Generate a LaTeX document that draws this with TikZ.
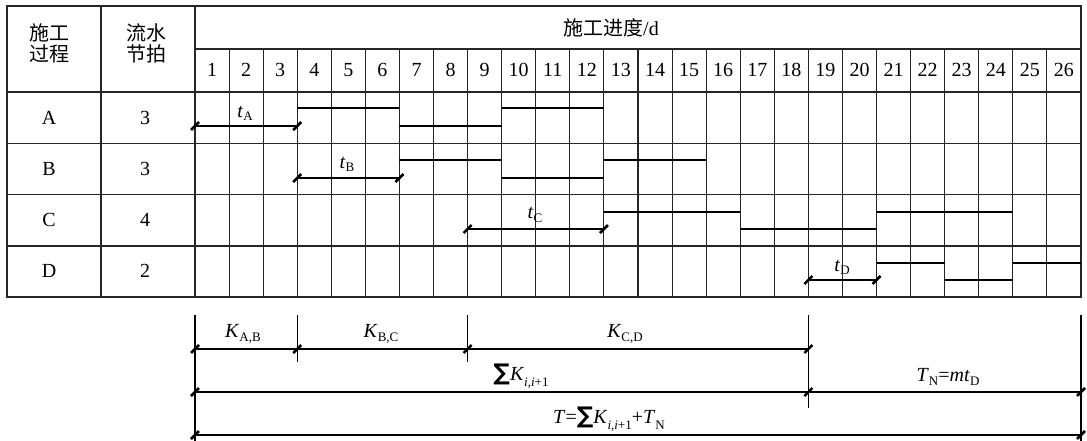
\documentclass[tikz,border=0pt]{standalone}
\usepackage{fontspec}
\setmainfont{Liberation Serif}
\newfontfamily\cjk{Noto Sans CJK SC}
\newfontfamily\symf{DejaVu Sans}
\newcommand\sbs[1]{\raisebox{-0.35ex}{\fontsize{13}{13}\selectfont #1}}
\newcommand\sbl[1]{\raisebox{-0.6ex}{\fontsize{13}{13}\selectfont #1}}
\newcommand\sumsym{{\symf\bfseries\fontsize{23}{23}\selectfont ∑}}
\def\W{34.0769}
\begin{document}
\begin{tikzpicture}[x=1pt,y=-1pt,
  grid/.style={line width=1.1pt, draw=black!85},
  barline/.style={line width=2.7pt},
  dimthick/.style={line width=2.4pt},
  dimthin/.style={line width=1.1pt},
  tickmark/.style={line width=2.6pt},
  lbl/.style={font=\fontsize{20}{22}\selectfont, inner sep=0pt},
  cjklbl/.style={font=\cjk\fontsize{20}{21}\selectfont, inner sep=0pt, align=center}
]
\useasboundingbox (0,0) rectangle (1087,441);

% ---- grid ----
\draw[grid] (7,6) rectangle (1081,297);
\draw[grid] (101,6) -- (101,297);
\draw[grid] (195,6) -- (195,297);
\draw[grid] (195,49) -- (1081,49);
\foreach \y in {92,143.5,194.5,246} \draw[grid] (7,\y) -- (1081,\y);
\foreach \i in {1,...,25} \draw[grid] ({195+\i*\W},49) -- ({195+\i*\W},297);

% ---- header texts ----
\node[cjklbl] (h1) at (49,43) {施工\\过程};
\node[cjklbl] (h2) at (146,43) {流水\\节拍};
\node[lbl] (h3) at (611,28) {{\cjk 施工进度}/d};
\foreach \i in {1,...,26} \node[lbl] (n\i) at ({195+(\i-0.5)*\W},70) {\i};

% ---- row labels ----
\node[lbl] (rA) at (49,118) {A};  \node[lbl] (kA) at (145,118) {3};
\node[lbl] (rB) at (49,169) {B};  \node[lbl] (kB) at (145,169) {3};
\node[lbl] (rC) at (49,220) {C};  \node[lbl] (kC) at (145,220) {4};
\node[lbl] (rD) at (49,271) {D};  \node[lbl] (kD) at (145,271) {2};

% ---- bars ----
\newcommand\seg[3]{\draw[barline] ({195+#1*\W},#3) -- ({195+#2*\W},#3);}
% row A
\seg{3}{6}{108}\seg{6}{9}{126}\seg{9}{12}{108}
% row B
\seg{6}{9}{160}\seg{9}{12}{178}\seg{12}{15}{160}
% row C
\seg{12}{16}{212}\seg{16}{20}{229}\seg{20}{24}{212}
% row D
\seg{20}{22}{263}\seg{22}{24}{280}\seg{24}{26}{263}

% ---- in-table dimensions ----
\coordinate (ta0) at ({195+0*\W},126);   \coordinate (ta1) at ({195+3*\W},126);
\coordinate (tb0) at ({195+3*\W},178);   \coordinate (tb1) at ({195+6*\W},178);
\coordinate (tc0) at ({195+8*\W},229);   \coordinate (tc1) at ({195+12*\W},229);
\coordinate (td0) at ({195+18*\W},280);  \coordinate (td1) at ({195+20*\W},280);
\draw[dimthick] (ta0) -- (ta1);
\draw[dimthick] (tb0) -- (tb1);
\draw[dimthick] (tc0) -- (tc1);
\draw[dimthick] (td0) -- (td1);
\foreach \c in {ta0,ta1,tb0,tb1,tc0,tc1,td0,td1}
  \draw[tickmark] ([shift={(-4,4)}]\c) -- ([shift={(4,-4)}]\c);
\node[lbl] (tA) at (245,113) {\textit{t}\sbs{A}};
\node[lbl] (tB) at (347,164) {\textit{t}\sbs{B}};
\node[lbl] (tC) at (535,215) {\textit{t}\sbs{C}};
\node[lbl] (tD) at (842,267) {\textit{t}\sbs{D}};

% ---- bottom dimensions ----
\coordinate (x0) at (195,0);
\coordinate (x1) at ({195+3*\W},0);
\coordinate (x2) at ({195+8*\W},0);
\coordinate (x3) at ({195+18*\W},0);
\coordinate (x4) at (1081,0);
% extension lines
\draw[dimthin] (x0 |- 0,315) -- (x0 |- 0,441);
\draw[dimthin] (x1 |- 0,315) -- (x1 |- 0,362);
\draw[dimthin] (x2 |- 0,315) -- (x2 |- 0,362);
\draw[dimthin] (x3 |- 0,315) -- (x3 |- 0,408);
\draw[dimthin] (x4 |- 0,315) -- (x4 |- 0,441);
% dimension lines
\coordinate (k0) at (x0 |- 0,349); \coordinate (k1) at (x1 |- 0,349);
\coordinate (k2) at (x2 |- 0,349); \coordinate (k3) at (x3 |- 0,349);
\coordinate (s0) at (x0 |- 0,392); \coordinate (s1) at (x3 |- 0,392);
\coordinate (s2) at (x4 |- 0,392);
\coordinate (u0) at (x0 |- 0,435); \coordinate (u1) at (x4 |- 0,435);
\draw[dimthin] (k0) -- (k3);
\draw[dimthin] (s0) -- (s2);
\draw[dimthin] (u0) -- (u1);
\foreach \c in {k0,k1,k2,k3,s0,s1,s2,u0,u1}
  \draw[tickmark] ([shift={(-4,4)}]\c) -- ([shift={(4,-4)}]\c);
\node[lbl] (KAB) at (243,334) {\textit{K}\sbs{A,B}};
\node[lbl] (KBC) at (381,334) {\textit{K}\sbs{B,C}};
\node[lbl] (KCD) at (625,334) {\textit{K}\sbs{C,D}};
\node[lbl] (SK) at (521,376) {\sumsym\textit{K}\sbl{\textit{i},\textit{i}+1}};
\node[lbl] (TN) at (948,377) {\textit{T}\sbs{N}=\textit{mt}\sbs{D}};
\node[lbl] (TT) at (609,419) {\textit{T}=\sumsym\textit{K}\sbl{\textit{i},\textit{i}+1}+\textit{T}\sbl{N}};
\end{tikzpicture}
\end{document}
